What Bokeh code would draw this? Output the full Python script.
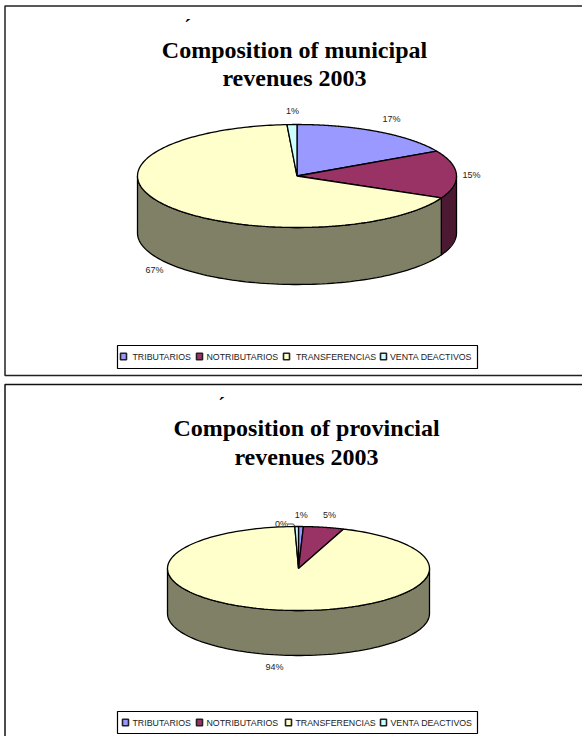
import numpy as np
from bokeh.plotting import figure
from bokeh.core.properties import value
from bokeh.embed import file_html
from bokeh.resources import INLINE

categories = ["TRIBUTARIOS", "NOTRIBUTARIOS", "TRANSFERENCIAS", "VENTA DEACTIVOS"]
municipal_values = [17.0, 15.0, 67.0, 1.0]
provincial_values = [0.6, 5.0, 93.95, 0.45]
municipal_labels = ["17%", "15%", "67%", "1%"]
provincial_labels = ["1%", "5%", "94%", "0%"]
municipal_title = ["Composition of municipal", "revenues 2003"]
provincial_title = ["Composition of provincial", "revenues 2003"]
top_colors = ["#9999FF", "#993366", "#FFFFCC", "#CCFFFF"]
side_colors = ["#666699", "#4C1933", "#808066", "#669999"]

W, H = 582, 736
p = figure(width=W, height=H, x_range=(0, W), y_range=(H, 0),
           output_backend="svg", toolbar_location=None, min_border=0, outline_line_color=None)
p.axis.visible = False
p.grid.visible = False


def ell(cx, cy, rx, ry, deg):
    t = np.radians(deg)
    return cx + rx * np.sin(t), cy - ry * np.cos(t)


def draw_pie(values, cx, cy, rx, ry, depth):
    edges = np.concatenate([[0.0], np.cumsum(values)]) / sum(values) * 360.0
    # side walls: only the front half of the rim (90..270 degrees) shows
    for i in range(len(values)):
        a, b = max(edges[i], 90.0), min(edges[i + 1], 270.0)
        if b <= a:
            continue
        deg = np.linspace(a, b, 90)
        x, y = ell(cx, cy, rx, ry, deg)
        p.patch(np.r_[x, x[::-1]], np.r_[y, y[::-1] + depth], fill_color=side_colors[i],
                line_color="black", line_width=1.3)
    # top faces
    for i in range(len(values)):
        deg = np.linspace(edges[i], edges[i + 1], 200)
        x, y = ell(cx, cy, rx, ry, deg)
        p.patch(np.r_[cx, x], np.r_[cy, y], fill_color=top_colors[i],
                line_color="black", line_width=1.3)


def draw_text(xs, ys, texts, size, color="#222222", font="Liberation Sans", style="normal",
              align="center"):
    p.text(x=xs, y=ys, text=texts, text_font=value(font), text_font_size=value(size),
           text_color=color, text_font_style=style, text_align=align, text_baseline="middle")


def draw_legend(x0, x1, y0, y1, sw_x, txt_x, y_mid):
    p.quad(left=[x0], right=[x1], top=[y0], bottom=[y1], fill_color="white",
           line_color="black", line_width=1.2)
    for sx, c in zip(sw_x, top_colors):
        p.rect(x=[sx], y=[y_mid], width=6, height=6.5, fill_color=c, line_color="#222222",
               line_width=1.6)
    draw_text(txt_x, [y_mid] * 4, categories, "8.8px", align="left")


# frames, open on the right-hand side
p.line([W, 4.5, 4.5, W], [5.5, 5.5, 375, 375], line_color="#222222", line_width=1.5)
p.line([W, 4.5, 4.5], [384, 384, H], line_color="#111111", line_width=1.5)

# municipal
draw_pie(municipal_values, 296.5, 175.5, 159.5, 51.5, 57)
draw_text([294, 294], [49, 77], municipal_title, "24px", "black", "Liberation Serif", "bold")
draw_text([187], [26], ["´"], "20px", "black", "Liberation Serif", "bold")
draw_text([391, 471, 154, 292], [118, 174, 269, 110], municipal_labels, "9px")
draw_legend(117, 477, 345, 368, [123, 199, 286, 383], [132, 206, 295.5, 389.5], 356)

# provincial
draw_pie(provincial_values, 298, 568, 131, 42, 45)
draw_text([306, 306], [427, 456], provincial_title, "24px", "black", "Liberation Serif", "bold")
draw_text([221], [404], ["´"], "20px", "black", "Liberation Serif", "bold")
draw_text([300.7, 329, 274, 281], [514, 514, 666, 523], provincial_labels, "9px")
p.line([287, 293, 295], [523.5, 523.5, 527], line_color="#222222", line_width=0.8)
draw_legend(117, 477, 711, 733, [125, 199, 288, 383], [132, 206, 295, 390], 722)

open("out.html", "w").write(file_html(p, INLINE))
